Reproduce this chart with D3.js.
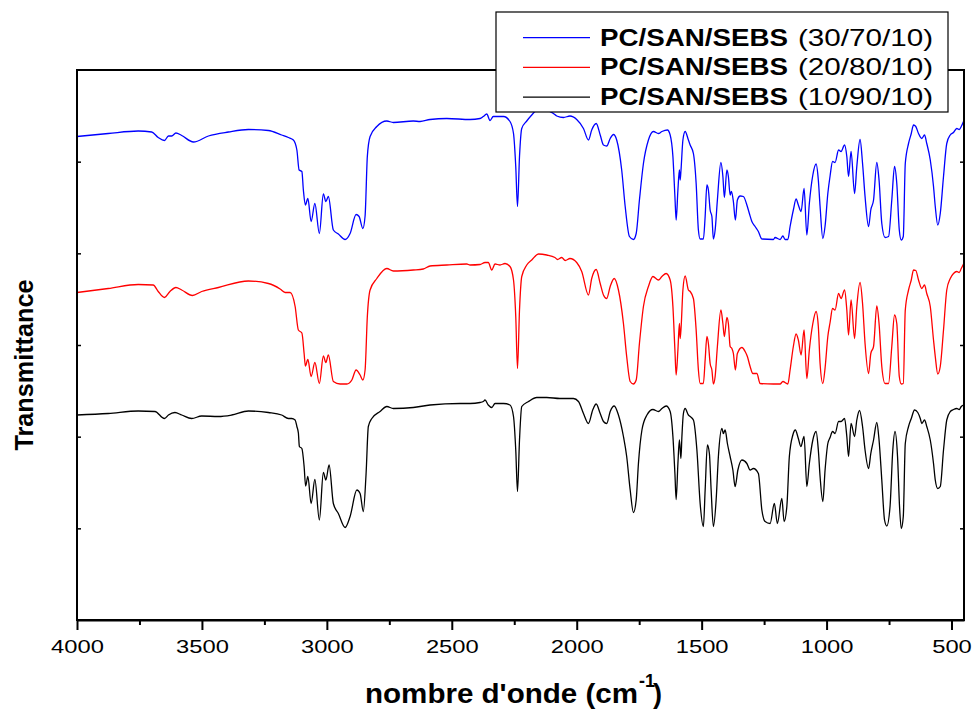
<!DOCTYPE html>
<html>
<head>
<meta charset="utf-8">
<script src="https://cdn.jsdelivr.net/npm/d3@7"></script>
<style>
body { margin: 0; background: #fff; }
text { font-family: Arial, "Liberation Sans", Helvetica, sans-serif; }
</style>
</head>
<body>
<svg id="chart" width="975" height="714"></svg>
<script>
// wavenumber (cm-1), transmittance (arbitrary units, curves offset)
var spectrum30_70 = [
	[4000,96.7],[3875,97.3],[3755,97.8],[3701,97.6],[3675,96.5],[3650,95.9],[3634,96.8],[3621,96.8],[3604,97.4],[3581,96.9],
	[3534,95.6],[3474,96.8],[3394,97.6],[3314,98.1],[3234,97.9],[3181,97.0],[3154,96.5],[3134,96.0],[3120,94.0],[3111,90.0],
	[3100,89.7],[3094,86.0],[3086,83.0],[3076,84.3],[3063,79.7],[3048,83.3],[3030,77.3],[3014,85.2],[3004,83.7],[2994,84.7],
	[2974,78.0],[2954,77.2],[2927,76.1],[2907,77.3],[2883,81.1],[2871,80.7],[2856,78.3],[2847,80.8],[2838,92.7],[2827,96.7],
	[2800,98.7],[2760,99.8],[2734,99.5],[2654,99.8],[2627,99.7],[2587,100.1],[2520,100.3],[2427,100.1],[2387,100.3],[2374,100.7],
	[2360,101.2],[2347,99.9],[2334,100.7],[2293,100.7],[2267,99.7],[2253,97.3],[2244,90.7],[2237,82.7],[2229,92.7],[2220,98.3],
	[2200,99.8],[2180,101.0],[2167,101.7],[2153,102.2],[2120,102.0],[2093,101.3],[2080,100.8],[2053,100.5],[2027,100.8],[2000,100.1],
	[1973,98.3],[1953,96.0],[1940,98.0],[1922,99.3],[1906,97.0],[1893,95.0],[1880,94.8],[1866,96.3],[1853,97.1],[1840,96.0],
	[1820,90.0],[1806,82.7],[1789,76.7],[1773,76.1],[1762,77.3],[1749,84.0],[1733,91.3],[1713,96.0],[1693,97.7],[1673,97.3],
	[1659,97.7],[1637,98.0],[1626,97.0],[1615,92.7],[1607,84.7],[1602,80.0],[1595,86.0],[1589,90.0],[1586,88.0],[1583,89.7],
	[1575,96.0],[1566,97.7],[1553,96.0],[1546,95.0],[1533,93.3],[1522,87.3],[1513,78.0],[1506,76.2],[1493,76.2],[1486,80.7],
	[1479,87.0],[1473,86.0],[1466,82.0],[1459,80.7],[1453,76.2],[1446,78.0],[1437,84.0],[1423,91.5],[1415,88.7],[1409,84.5],
	[1399,90.0],[1393,88.7],[1386,85.0],[1381,85.7],[1373,83.7],[1365,80.0],[1357,84.0],[1346,84.8],[1333,84.7],[1319,83.0],
	[1309,81.3],[1299,79.7],[1286,78.7],[1273,77.7],[1259,76.2],[1213,76.1],[1206,76.5],[1186,76.1],[1175,76.8],[1166,76.1],
	[1155,76.1],[1146,78.7],[1133,82.0],[1122,84.2],[1113,83.0],[1102,81.7],[1090,86.3],[1079,77.0],[1069,83.3],[1055,89.0],
	[1042,91.2],[1033,88.0],[1026,82.7],[1015,76.3],[1006,78.8],[995,85.3],[986,88.8],[976,91.7],[966,91.5],[952,94.0],
	[942,93.7],[928,95.0],[919,92.7],[912,88.7],[902,93.7],[888,85.3],[879,90.7],[866,96.1],[856,91.3],[846,84.7],
	[832,78.7],[823,82.0],[812,84.0],[799,91.5],[790,88.0],[779,79.3],[766,76.5],[752,76.7],[739,84.0],[728,90.7],
	[719,87.3],[709,78.0],[701,76.0],[693,76.7],[685,91.3],[672,95.3],[661,97.3],[652,99.0],[643,98.7],[632,97.3],
	[619,96.3],[608,97.0],[599,95.3],[585,92.0],[572,86.7],[565,82.7],[555,79.0],[545,81.3],[532,88.7],[519,95.3],
	[505,97.0],[492,97.5],[479,98.3],[469,98.1],[461,98.7],[452,99.7]
];

var spectrum20_80 = [
	[4000,65.5],[3875,66.3],[3755,67.1],[3695,67.0],[3675,65.7],[3650,64.5],[3628,65.7],[3604,66.5],[3581,66.0],[3538,64.9],
	[3501,65.7],[3434,66.5],[3314,67.8],[3234,67.3],[3187,66.2],[3167,65.5],[3147,65.5],[3127,62.7],[3114,58.0],[3100,57.4],
	[3091,53.3],[3086,50.8],[3076,52.1],[3063,48.7],[3048,51.5],[3030,47.3],[3014,52.8],[3004,51.5],[2994,53.0],[2974,47.7],
	[2947,47.2],[2920,47.2],[2900,48.0],[2883,50.0],[2867,49.0],[2856,48.0],[2847,50.0],[2838,60.7],[2827,66.0],[2800,68.3],
	[2760,70.3],[2734,69.8],[2654,70.0],[2614,70.2],[2587,70.8],[2520,71.0],[2440,71.2],[2427,71.0],[2387,71.1],[2367,71.5],
	[2354,71.5],[2340,70.0],[2327,71.2],[2307,71.0],[2287,71.3],[2267,70.7],[2253,68.0],[2244,60.7],[2237,50.3],[2229,62.0],
	[2220,68.7],[2200,71.0],[2180,72.0],[2153,73.2],[2120,73.0],[2087,72.5],[2077,72.1],[2060,72.5],[2046,71.9],[2027,72.3],
	[2000,71.5],[1980,69.7],[1953,65.0],[1940,68.3],[1922,70.1],[1906,67.3],[1893,65.0],[1880,64.3],[1866,66.7],[1850,68.3],
	[1833,66.0],[1813,59.3],[1800,52.7],[1786,47.7],[1773,47.2],[1762,48.0],[1749,55.3],[1733,62.7],[1713,66.7],[1695,68.7],
	[1673,68.0],[1659,68.7],[1642,69.3],[1626,68.0],[1615,62.7],[1607,54.0],[1602,49.0],[1595,54.0],[1589,59.3],[1586,56.3],
	[1582,58.7],[1575,66.0],[1566,68.8],[1553,66.0],[1546,65.7],[1533,64.3],[1522,58.0],[1513,50.0],[1506,47.3],[1493,47.3],
	[1486,52.0],[1479,56.7],[1473,55.3],[1466,51.3],[1459,50.0],[1453,47.2],[1446,48.7],[1437,54.7],[1423,62.0],[1415,59.3],
	[1409,56.7],[1399,60.5],[1393,59.3],[1386,54.7],[1379,54.3],[1373,53.3],[1365,50.0],[1357,53.3],[1339,54.5],[1326,53.7],
	[1317,52.7],[1306,50.7],[1295,49.3],[1279,49.3],[1266,47.3],[1213,47.2],[1186,47.2],[1175,47.7],[1155,47.2],[1146,50.0],
	[1133,54.7],[1122,57.2],[1113,56.0],[1102,53.0],[1090,58.0],[1079,48.3],[1069,54.0],[1055,59.3],[1042,61.7],[1033,58.7],
	[1026,51.3],[1015,47.3],[1006,50.4],[995,56.7],[986,59.5],[976,62.3],[966,62.0],[952,65.3],[942,64.3],[928,66.0],
	[919,62.0],[912,57.0],[902,64.0],[888,56.3],[879,62.7],[866,67.5],[856,63.3],[846,55.3],[832,49.3],[823,53.3],
	[812,54.7],[799,62.8],[790,59.3],[779,50.7],[766,47.3],[752,47.3],[739,54.7],[728,61.0],[719,59.3],[709,48.7],
	[701,47.2],[693,47.3],[685,62.0],[672,66.0],[661,68.0],[652,70.0],[643,69.9],[632,68.0],[619,66.3],[608,67.0],
	[599,65.3],[585,62.7],[572,56.0],[565,52.7],[555,49.2],[545,50.7],[532,58.0],[519,66.0],[505,68.3],[492,69.3],
	[479,69.7],[469,69.5],[461,70.3],[452,71.2]
];

var spectrum10_90 = [
	[4000,41.0],[3875,41.3],[3755,41.8],[3688,41.7],[3650,40.3],[3634,41.0],[3608,41.5],[3581,41.0],[3541,40.3],[3501,40.8],
	[3434,40.7],[3381,41.0],[3314,41.8],[3234,41.5],[3181,41.0],[3154,40.3],[3141,40.3],[3127,40.0],[3120,38.7],[3114,37.4],
	[3110,34.7],[3100,34.3],[3091,30.7],[3085,26.8],[3076,28.7],[3063,23.3],[3048,28.1],[3030,20.0],[3014,29.5],[3004,28.0],
	[2991,31.0],[2974,23.3],[2954,21.3],[2927,18.5],[2907,20.7],[2880,26.0],[2867,25.3],[2854,21.7],[2843,29.3],[2834,38.7],
	[2820,40.3],[2787,41.7],[2760,42.7],[2734,42.3],[2654,42.5],[2587,43.0],[2467,43.3],[2427,43.3],[2387,43.5],[2374,43.7],
	[2367,44.0],[2354,43.0],[2340,42.5],[2327,43.3],[2293,43.3],[2267,43.0],[2253,40.7],[2244,34.0],[2237,25.7],[2229,36.0],
	[2220,42.7],[2193,43.7],[2160,44.5],[2120,44.5],[2067,44.3],[2013,44.3],[1993,43.7],[1973,41.3],[1953,39.3],[1936,42.0],
	[1922,43.2],[1906,41.3],[1893,39.7],[1880,39.3],[1866,41.7],[1850,42.8],[1833,41.0],[1813,36.7],[1800,32.7],[1786,26.0],
	[1773,21.5],[1762,24.0],[1753,31.3],[1739,38.0],[1719,41.0],[1695,42.1],[1673,41.7],[1659,42.3],[1642,42.8],[1626,41.7],
	[1615,36.7],[1607,29.3],[1602,24.1],[1595,31.3],[1589,36.0],[1583,32.3],[1579,36.7],[1573,41.3],[1566,42.3],[1553,41.0],
	[1546,40.7],[1533,40.0],[1519,34.0],[1506,23.3],[1493,18.7],[1486,26.0],[1477,35.0],[1469,33.3],[1462,26.0],[1453,18.7],
	[1442,24.0],[1433,32.7],[1419,38.3],[1413,37.3],[1406,38.0],[1397,35.3],[1386,32.7],[1375,30.0],[1366,26.7],[1355,30.0],
	[1339,32.0],[1319,31.3],[1306,30.0],[1293,30.3],[1273,29.3],[1259,22.0],[1246,19.7],[1226,19.3],[1209,23.3],[1197,19.3],
	[1179,24.3],[1170,19.7],[1159,22.7],[1149,32.7],[1135,37.0],[1125,38.0],[1113,36.3],[1103,34.7],[1090,36.7],[1079,26.7],
	[1069,31.3],[1055,36.0],[1042,37.7],[1033,34.0],[1026,28.7],[1015,23.7],[1006,30.0],[995,35.3],[986,36.5],[976,37.7],
	[966,37.3],[952,39.7],[942,39.7],[928,40.3],[919,36.7],[912,32.7],[902,39.3],[888,36.7],[879,40.0],[868,41.9],
	[856,38.7],[846,34.0],[832,30.3],[823,33.3],[812,36.0],[799,39.5],[790,36.0],[779,28.0],[768,20.0],[759,18.8],
	[746,22.7],[735,34.0],[726,37.7],[716,32.7],[708,22.7],[701,18.3],[693,20.7],[685,35.3],[672,38.7],[661,40.3],
	[648,42.0],[635,41.5],[625,40.3],[619,39.3],[608,40.0],[599,38.7],[585,36.0],[572,31.3],[565,28.0],[555,26.3],
	[545,26.7],[532,34.0],[519,40.0],[505,41.7],[492,42.1],[479,42.3],[469,42.1],[461,42.7],[452,43.0]
];

var blendName = "PC/SAN/SEBS";
var blendRatios = ["(30/70/10)", "(20/80/10)", "(10/90/10)"];
var xTicks = [4000, 3500, 3000, 2500, 2000, 1500, 1000, 500];
var xMinorTicks = [3750, 3250, 2750, 2250, 1750, 1250, 750];

var spectra = [spectrum30_70, spectrum20_80, spectrum10_90];
var colors = ["#0000ff", "#ff0000", "#000000"];

var svg = d3.select("#chart");

var x = d3.scaleLinear()
	.domain([4000, 450])
	.range([77, 964]);

var y = d3.scaleLinear()
	.domain([0, 110])
	.range([620, 70]);

var line = d3.line()
	.x(function(d) { return x(d[0]); })
	.y(function(d) { return y(d[1]); })
	.curve(d3.curveMonotoneX);

svg.selectAll("path.spectrum")
	.data(spectra)
	.enter().append("path")
	.attr("class", "spectrum")
	.attr("fill", "none")
	.attr("stroke", function(d, i) { return colors[i]; })
	.attr("stroke-width", 1.3)
	.attr("d", function(d) {
		return line(d.slice().sort(function(a, b) { return b[0] - a[0]; }));
	});

// frame
svg.append("rect")
	.attr("x", x(4000))
	.attr("y", y(110))
	.attr("width", x(450) - x(4000))
	.attr("height", y(0) - y(110))
	.attr("fill", "none")
	.attr("stroke", "#000")
	.attr("stroke-width", 2);

// bottom axis, major then minor ticks
var xAxis = svg.append("g")
	.attr("transform", "translate(0," + y(0) + ")")
	.call(d3.axisBottom(x).tickValues(xTicks).tickSize(10).tickSizeOuter(0).tickFormat(d3.format("d")));

xAxis.select(".domain").attr("stroke-width", 2);
xAxis.selectAll(".tick line").attr("stroke-width", 2);
xAxis.selectAll(".tick text")
	.attr("y", 33)
	.attr("dy", null)
	.style("font-size", "19px")
	.attr("fill", "#000")
	.attr("textLength", function(d) { return String(d).length * 13.2; })
	.attr("lengthAdjust", "spacingAndGlyphs");

svg.append("g")
	.attr("transform", "translate(0," + y(0) + ")")
	.call(d3.axisBottom(x).tickValues(xMinorTicks).tickSize(5).tickFormat(""))
	.call(function(g) { g.select(".domain").remove(); })
	.selectAll(".tick line").attr("stroke-width", 2);

// inner ticks on left and right, no labels
var yTicks = d3.range(1, 6).map(function(k) { return k * 110 / 6; });

svg.append("g")
	.attr("transform", "translate(" + x(4000) + ",0)")
	.call(d3.axisLeft(y).tickValues(yTicks).tickSize(-4).tickFormat(""))
	.call(function(g) { g.select(".domain").remove(); })
	.selectAll(".tick line").attr("stroke-width", 1.5);

svg.append("g")
	.attr("transform", "translate(" + x(450) + ",0)")
	.call(d3.axisRight(y).tickValues(yTicks).tickSize(-4).tickFormat(""))
	.call(function(g) { g.select(".domain").remove(); })
	.selectAll(".tick line").attr("stroke-width", 1.5);

// axis titles
svg.append("text")
	.attr("x", 365)
	.attr("y", 703)
	.style("font-size", "27px")
	.style("font-weight", "bold")
	.attr("textLength", 273)
	.attr("lengthAdjust", "spacingAndGlyphs")
	.text("nombre d'onde (cm");

svg.append("text")
	.attr("x", 639)
	.attr("y", 687)
	.style("font-size", "18px")
	.style("font-weight", "bold")
	.text("-1");

svg.append("text")
	.attr("x", 653)
	.attr("y", 703)
	.style("font-size", "27px")
	.style("font-weight", "bold")
	.text(")");

svg.append("text")
	.attr("transform", "translate(33,365) rotate(-90)")
	.style("text-anchor", "middle")
	.style("font-size", "26px")
	.style("font-weight", "bold")
	.attr("textLength", 171)
	.attr("lengthAdjust", "spacingAndGlyphs")
	.text("Transmittance");

// legend
var legend = svg.append("g");

legend.append("rect")
	.attr("x", 496)
	.attr("y", 12)
	.attr("width", 452)
	.attr("height", 100)
	.attr("fill", "#fff")
	.attr("stroke", "#000")
	.attr("stroke-width", 1.2);

var row = legend.selectAll("g.row")
	.data(blendRatios)
	.enter().append("g")
	.attr("class", "row")
	.attr("transform", function(d, i) { return "translate(0," + (45.7 + i * 29.7) + ")"; });

row.append("line")
	.attr("x1", 523)
	.attr("x2", 590)
	.attr("y1", -8)
	.attr("y2", -8)
	.attr("stroke", function(d, i) { return colors[i]; })
	.attr("stroke-width", 1.2);

row.append("text")
	.attr("x", 600)
	.style("font-size", "24px")
	.style("font-weight", "bold")
	.attr("textLength", 188)
	.attr("lengthAdjust", "spacingAndGlyphs")
	.text(blendName);

row.append("text")
	.attr("x", 798)
	.style("font-size", "24px")
	.attr("textLength", 135)
	.attr("lengthAdjust", "spacingAndGlyphs")
	.text(function(d) { return d; });
</script>
</body>
</html>
